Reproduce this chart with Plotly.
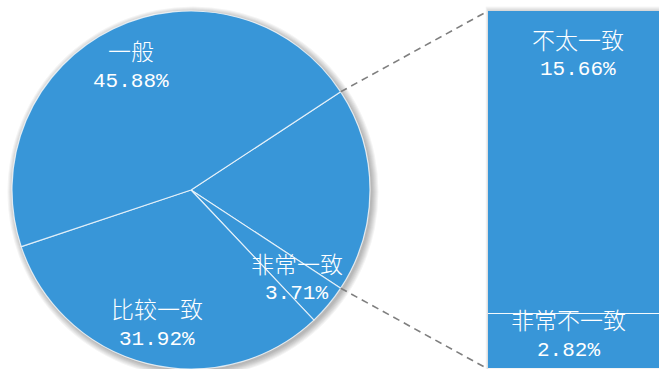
import math
import plotly.graph_objects as go

# Pie slices (percent); the "other" slice is broken out into the bar
pie_labels = ["一般", "比较一致", "非常一致"]
pie_values = [45.88, 31.92, 3.71]
bar_labels = ["非常不一致", "不太一致"]      # stacked bottom -> top
bar_values = [2.82, 15.66]

W, H = 659, 369
BLUE = "rgb(56,150,216)"
EDGE = "rgba(255,255,255,0.75)"
CJK = "Noto Sans CJK SC"
NUM = "Liberation Mono, Noto Sans CJK SC"

other_total = sum(bar_values)
total = sum(pie_values) + other_total

# pie geometry in pixels (from the top-left corner)
cx, cy, R = 191, 190, 179
half_other = 180.0 * other_total / total          # half the angle of the other slice
rotation = 90 - half_other

# bar geometry in pixels
bar_left, bar_top, bar_bottom, bar_full_w = 488, 11, 369, 180


def px(x):
    return x / W


def py(y):
    return 1 - y / H


fig = go.Figure()

# clockwise from the other slice: other, 非常一致, 比较一致, 一般
order_labels = ["其他"] + pie_labels[::-1]
order_values = [other_total] + pie_values[::-1]
fig.add_trace(go.Pie(
    labels=order_labels, values=order_values, sort=False,
    direction="clockwise", rotation=rotation,
    marker=dict(colors=[BLUE] * 4, line=dict(color=EDGE, width=1.2)),
    textinfo="none", hoverinfo="label+percent", showlegend=False,
    domain=dict(x=[px(cx - R), px(cx + R)], y=[py(cy + R), py(cy - R)]),
))

# stacked bar for the broken-out slice
vis_units = (W - bar_left) / bar_full_w
for lab, val in zip(bar_labels, bar_values):
    fig.add_trace(go.Bar(
        x=[0], y=[val], name=lab, width=1, showlegend=False,
        marker=dict(color=BLUE, line=dict(color=EDGE, width=1.2)),
        xaxis="x", yaxis="y",
    ))

fig.update_layout(
    width=W, height=H, margin=dict(l=0, r=0, t=0, b=0),
    paper_bgcolor="white", plot_bgcolor="rgba(0,0,0,0)",
    barmode="stack", bargap=0,
    xaxis=dict(domain=[px(bar_left), 1], range=[-0.5, -0.5 + vis_units],
               visible=False, fixedrange=True),
    yaxis=dict(domain=[py(bar_bottom), py(bar_top)], range=[0, other_total],
               visible=False, fixedrange=True),
)

shapes = []
# soft drop shadow behind the pie
for i in range(7):
    r = R + 0.5 + i
    shapes.append(dict(type="circle", xref="paper", yref="paper", layer="below",
                       x0=px(cx + 2 - r), x1=px(cx + 2 + r),
                       y0=py(cy + 2 + r), y1=py(cy + 2 - r),
                       fillcolor="rgba(0,0,0,0.045)", line=dict(width=0)))
# soft shadow along the bar top
for i in range(5):
    shapes.append(dict(type="rect", xref="paper", yref="paper", layer="below",
                       x0=px(bar_left - i * 0.6), x1=1.01,
                       y0=py(bar_bottom), y1=py(bar_top - 0.5 - i),
                       fillcolor="rgba(0,0,0,0.035)", line=dict(width=0)))

# dashed connectors from the other slice to the bar corners
for sgn, ycorner in ((1, bar_top), (-1, bar_bottom)):
    a = math.radians(half_other) * sgn
    x0 = cx + R * math.cos(a)
    y0 = cy - R * math.sin(a)
    shapes.append(dict(type="line", xref="paper", yref="paper", layer="above",
                       x0=px(x0), y0=py(y0), x1=px(bar_left), y1=py(ycorner),
                       line=dict(color="#7f7f7f", width=1.6, dash="7px,5px")))
fig.update_layout(shapes=shapes)

annotations = []


def two_line(xp, yp, name, value, xref="paper", yref="paper", xshift=0, yshift=0):
    common = dict(x=xp, y=yp, xref=xref, yref=yref, xanchor="center",
                  yanchor="middle", showarrow=False)
    annotations.append(dict(text=name, xshift=xshift, yshift=yshift + 15.5,
                            font=dict(family=CJK, size=23, color="white", weight=300),
                            **common))
    annotations.append(dict(text=f"{value:.2f}%", xshift=xshift, yshift=yshift - 15.5,
                            font=dict(family=NUM, size=21, color="white"),
                            **common))


# pie labels along each slice's mid angle
start = 90 - rotation        # math angle where the clockwise sweep begins
acc = 0.0
for lab, val in zip(order_labels, order_values):
    mid = start - 360.0 * (acc + val / 2) / total
    acc += val
    if lab not in pie_labels:
        continue
    rr = 0.77 * R
    lx = cx + rr * math.cos(math.radians(mid))
    ly = cy - rr * math.sin(math.radians(mid))
    two_line(px(lx), py(ly), lab, val)

# bar labels
two_line(0, other_total, bar_labels[1], bar_values[1], xref="x", yref="y", yshift=-43)
two_line(0, bar_values[0] / 2, bar_labels[0], bar_values[0], xref="x", yref="y",
         xshift=-10, yshift=7)
fig.update_layout(annotations=annotations)

fig.write_html("out.html")
